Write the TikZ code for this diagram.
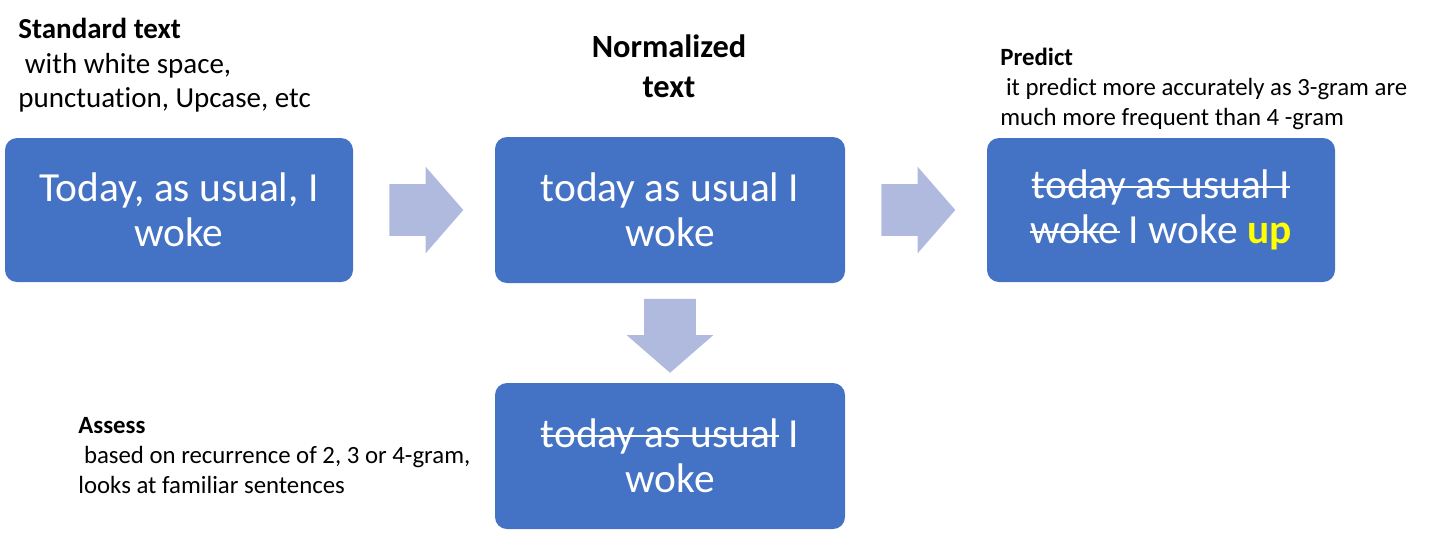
\documentclass[tikz,border=0pt]{standalone}
\usepackage{fontspec}
\setmainfont{Carlito}[Ligatures=NoCommon]
\usepackage{xcolor}
\usepackage{tikz}
\usetikzlibrary{positioning,calc,shapes.arrows}
\definecolor{BoxBlue}{RGB}{68,114,196}
\definecolor{ArrowBlue}{RGB}{175,186,222}
\definecolor{UpYellow}{RGB}{255,255,0}
\newcommand{\strikeword}[1]{\setbox0\hbox{#1}\rlap{\rule[0.26em]{\wd0}{1.1pt}}\box0\relax}
\tikzset{
    stepbox/.style={rectangle, rounded corners=6pt, fill=BoxBlue, text=white, minimum width=174pt, minimum height=72pt, inner sep=0pt, align=center, font=\fontsize{20.7}{22.5}\selectfont},
    blockarrow/.style={single arrow, fill=ArrowBlue, single arrow head extend=8.75pt, single arrow tip angle=98, minimum height=37pt, inner xsep=0pt, inner ysep=12.75pt, text height=0pt, text depth=0pt}
}

\begin{document}
\begin{tikzpicture}[
        x=0.5pt, y=-0.5pt,
        % Style cho chú thích
        notetext/.style={align=left, inner sep=0pt, anchor=north west},
        headtext/.style={align=center, inner sep=0pt, anchor=north, font=\bfseries\fontsize{16.2}{20}\selectfont}
    ]
        \useasboundingbox (0,0) rectangle (1444,554);

        % --- CÁC HỘP ---
        \node[stepbox] (std) at (179,210) {Today, as usual, I\\woke};
        \node[stepbox, minimum height=73pt, minimum width=175pt] (norm) at (670,210) {today as usual I\\woke};
        \node[stepbox] (pred) at (1161,210) {\strikeword{today as usual I}\\\strikeword{woke} I woke \textbf{\color{UpYellow}up}};
        \node[stepbox, minimum height=73pt, minimum width=175pt] (asess) at (670,456) {\strikeword{today as usual} I\\woke};

        % --- MŨI TÊN ---
        \node[blockarrow] (a1) at ($(std.east)!0.5!(norm.west)+(-4.5pt,0)$) {};
        \node[blockarrow] (a2) at ($(norm.east)!0.5!(pred.west)+(-4.5pt,0)$) {};
        \node[blockarrow, rotate=-90] (a3) at ($(norm.south)!0.5!(asess.north)+(0,4.25pt)$) {};

        % --- CHÚ THÍCH ---
        \node[notetext, font=\fontsize{14.5}{17.25}\selectfont] (stdnote) at (18,18)
            {\textbf{Standard text}\\\hspace*{0.226em}with white space,\\punctuation, Upcase, etc};
        \node[headtext] (normnote) at (669,34) {Normalized\\text};
        \node[notetext, font=\fontsize{12.4}{15}\selectfont] (prednote) at (1000,48)
            {\textbf{Predict}\\\hspace*{0.226em}it predict more accurately as 3-gram are\\much more frequent than 4 -gram};
        \node[notetext, font=\fontsize{12.4}{15}\selectfont] (asessnote) at (78,417)
            {\textbf{Assess}\\\hspace*{0.226em}based on recurrence of 2, 3 or 4-gram,\\looks at familiar sentences};
    \end{tikzpicture}
\end{document}
